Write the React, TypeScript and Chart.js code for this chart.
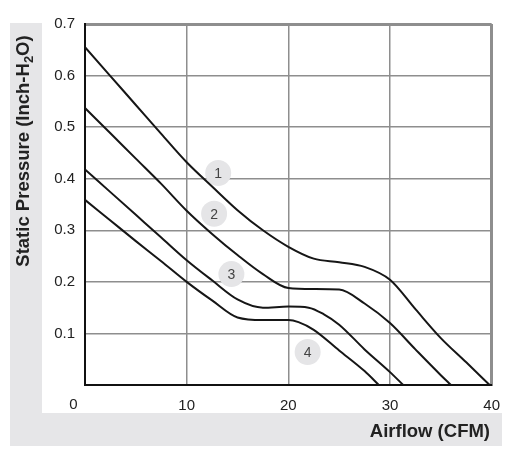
import React, { useEffect, useRef } from "react";
import { Chart, registerables } from "chart.js";

Chart.register(...registerables);

// Curve data (Airflow CFM, Static Pressure Inch-H2O)
const airflow1 = [0, 2.5, 5, 7.5, 10, 12.5, 15, 17.5, 20, 22.5, 25, 27.5, 30, 32.5, 35, 37.5, 39.8];
const pressure1 = [0.655, 0.599, 0.543, 0.487, 0.432, 0.385, 0.339, 0.3, 0.268, 0.245, 0.238, 0.229, 0.204, 0.147, 0.091, 0.044, 0];

const airflow2 = [0, 2.5, 5, 7.5, 10, 12.5, 15, 17.5, 20, 22.5, 25, 27.5, 30, 32.5, 35, 36];
const pressure2 = [0.537, 0.488, 0.439, 0.39, 0.338, 0.293, 0.252, 0.215, 0.188, 0.186, 0.185, 0.158, 0.12, 0.069, 0.019, 0];

const airflow3 = [0, 2.5, 5, 7.5, 10, 12.5, 15, 17.5, 20, 22, 23.5, 25, 27.5, 30, 31.3];
const pressure3 = [0.418, 0.374, 0.33, 0.286, 0.242, 0.203, 0.166, 0.15, 0.152, 0.15, 0.137, 0.117, 0.069, 0.025, 0];

const airflow4 = [0, 2.5, 5, 7.5, 10, 12.5, 15, 17.5, 20, 21, 22.5, 25, 27.5, 28.9];
const pressure4 = [0.359, 0.319, 0.279, 0.24, 0.2, 0.164, 0.131, 0.126, 0.126, 0.122, 0.107, 0.067, 0.027, 0];

// Curve number badges
const badgeNames = ["1", "2", "3", "4"];
const badgeX = [13.1, 12.7, 14.4, 21.9];
const badgeY = [0.411, 0.332, 0.215, 0.064];

// Axis ticks
const xTicks = [0, 10, 20, 30, 40];
const yTicks = [0.1, 0.2, 0.3, 0.4, 0.5, 0.6, 0.7];

const xTitle = "Airflow (CFM)";
const yTitleParts = ["Static Pressure (Inch-H", "2", "O)"];

const FONT = "'Liberation Sans', Arial, sans-serif";
const BAND = "#e6e6e8";

function pts(xs: number[], ys: number[]) {
  return xs.map((x, i) => ({ x, y: ys[i] }));
}

const decorPlugin = {
  id: "decor",
  beforeDraw(chart: any) {
    const ctx = chart.ctx;
    ctx.save();
    ctx.fillStyle = "#ffffff";
    ctx.fillRect(0, 0, chart.width, chart.height);
    ctx.fillStyle = BAND;
    ctx.fillRect(10, 23, 32, 423);
    ctx.fillRect(10, 413, 492, 33);
    ctx.restore();
  },
  afterDatasetsDraw(chart: any) {
    const ctx = chart.ctx;
    const meta = chart.getDatasetMeta(4);
    ctx.save();
    ctx.font = `14px ${FONT}`;
    ctx.fillStyle = "#444";
    ctx.textAlign = "center";
    ctx.textBaseline = "middle";
    meta.data.forEach((el: any, i: number) => {
      ctx.fillText(badgeNames[i], el.x, el.y + 1);
    });
    ctx.restore();
  },
  afterDraw(chart: any) {
    const ctx = chart.ctx;
    const xs = chart.scales.x;
    const ys = chart.scales.y;
    ctx.save();
    // x "0" label at origin
    ctx.font = `15px ${FONT}`;
    ctx.fillStyle = "#222";
    ctx.textAlign = "center";
    ctx.textBaseline = "middle";
    ctx.fillText("0", xs.getPixelForValue(0) - 11.5, ys.getPixelForValue(0) + 20);

    // x title
    ctx.font = `bold 18.5px ${FONT}`;
    ctx.textAlign = "right";
    ctx.fillText(xTitle, 490, 432);

    // y title with subscript
    ctx.translate(24, 151);
    ctx.rotate(-Math.PI / 2);
    const big = `bold 18.5px ${FONT}`;
    const small = `bold 13px ${FONT}`;
    ctx.font = big;
    const w0 = ctx.measureText(yTitleParts[0]).width;
    const w2 = ctx.measureText(yTitleParts[2]).width;
    ctx.font = small;
    const w1 = ctx.measureText(yTitleParts[1]).width;
    const total = w0 + w1 + w2;
    let x = -total / 2;
    ctx.textAlign = "left";
    ctx.textBaseline = "middle";
    ctx.font = big;
    ctx.fillText(yTitleParts[0], x, 0);
    x += w0;
    ctx.font = small;
    ctx.fillText(yTitleParts[1], x, 5);
    x += w1;
    ctx.font = big;
    ctx.fillText(yTitleParts[2], x, 0);
    ctx.restore();
  },
};

export default function App() {
  const ref = useRef<HTMLCanvasElement | null>(null);
  useEffect(() => {
    if (!ref.current) return;
    const lineStyle = {
      type: "line" as const,
      borderColor: "#161616",
      borderWidth: 2,
      pointRadius: 0,
      fill: false,
      cubicInterpolationMode: "monotone" as const,
      order: 0,
    };
    const chart = new Chart(ref.current, {
      type: "line",
      data: {
        datasets: [
          { ...lineStyle, label: "1", data: pts(airflow1, pressure1) },
          { ...lineStyle, label: "2", data: pts(airflow2, pressure2) },
          { ...lineStyle, label: "3", data: pts(airflow3, pressure3) },
          { ...lineStyle, label: "4", data: pts(airflow4, pressure4) },
          {
            type: "scatter" as const,
            label: "badges",
            data: pts(badgeX, badgeY),
            pointRadius: 13,
            pointBackgroundColor: "#e5e5e7",
            pointBorderWidth: 0,
            borderWidth: 0,
            showLine: false,
            order: 10,
          } as any,
        ],
      },
      options: {
        responsive: false,
        animation: false,
        layout: { padding: { left: 0, top: 24, right: 19, bottom: 0 } },
        plugins: {
          legend: { display: false },
          tooltip: { enabled: false },
        },
        scales: {
          x: {
            type: "linear",
            min: 0,
            max: 40,
            afterBuildTicks: (s: any) => {
              s.ticks = xTicks.map((v) => ({ value: v }));
            },
            afterFit: (s: any) => {
              s.height = 75;
            },
            ticks: {
              callback: (v: any) => (v === 0 ? "" : String(v)),
              font: { family: FONT, size: 15 },
              color: "#222",
              padding: 12,
              maxRotation: 0,
            },
            grid: {
              color: "#8e8e8e",
              lineWidth: (c: any) => (c.tick && c.tick.value === 40 ? 3 : 1.5),
              drawTicks: false,
            },
            border: { color: "#111", width: 2 },
          },
          y: {
            type: "linear",
            min: 0,
            max: 0.7,
            afterBuildTicks: (s: any) => {
              s.ticks = [0, ...yTicks].map((v) => ({ value: v }));
            },
            afterFit: (s: any) => {
              s.width = 85;
            },
            ticks: {
              callback: (v: any) => (v === 0 ? "" : Number(v).toFixed(1)),
              font: { family: FONT, size: 15 },
              color: "#222",
              padding: 10,
            },
            grid: {
              color: "#8e8e8e",
              lineWidth: (c: any) => (c.tick && Math.abs(c.tick.value - 0.7) < 1e-6 ? 3 : 1.5),
              drawTicks: false,
            },
            border: { color: "#111", width: 2 },
          },
        },
      },
      plugins: [decorPlugin],
    });
    return () => chart.destroy();
  }, []);
  return (
    <div style={{ position: "absolute", left: 0, top: 0, width: 512, height: 460 }}>
      <canvas ref={ref} width={512} height={460} style={{ width: 512, height: 460 }} />
    </div>
  );
}
